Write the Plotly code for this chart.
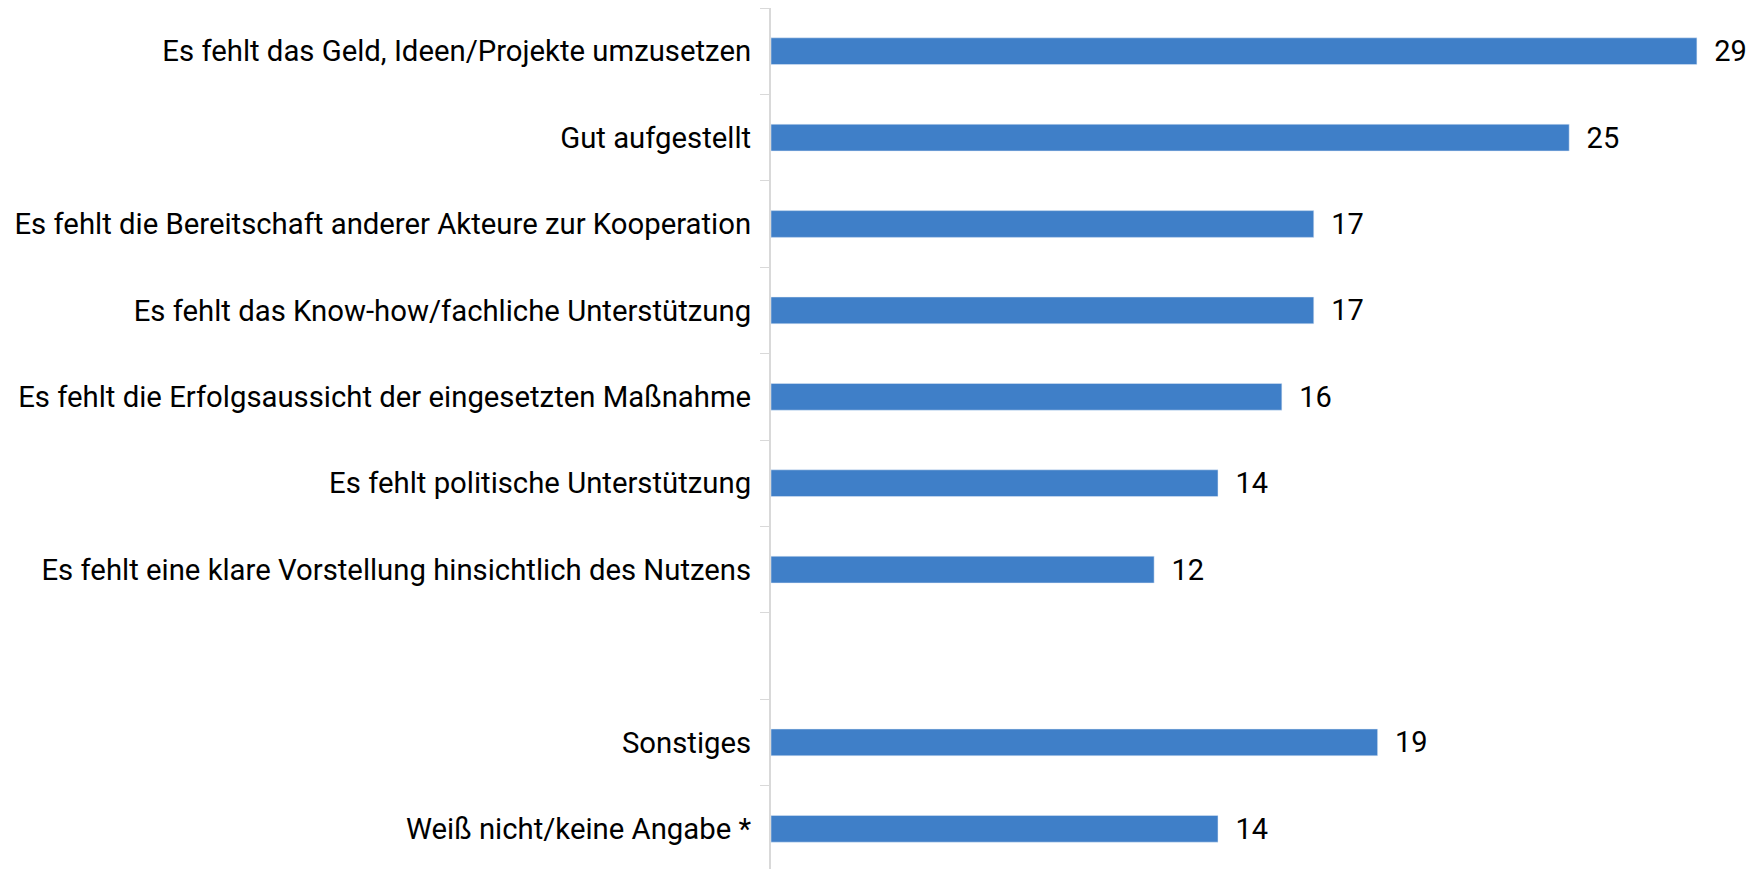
import plotly.graph_objects as go

# kategorijas (tuksa rinda atdala pedejas divas)
kategorijas = [
    "Es fehlt das Geld, Ideen/Projekte umzusetzen",
    "Gut aufgestellt",
    "Es fehlt die Bereitschaft anderer Akteure zur Kooperation",
    "Es fehlt das Know-how/fachliche Unterstützung",
    "Es fehlt die Erfolgsaussicht der eingesetzten Maßnahme",
    "Es fehlt politische Unterstützung",
    "Es fehlt eine klare Vorstellung hinsichtlich des Nutzens",
    " ",
    "Sonstiges",
    "Weiß nicht/keine Angabe *",
]
vertibas = [29, 25, 17, 17, 16, 14, 12, None, 19, 14]
teksts = ["" if v is None else "\u00a0\u00a0" + str(v) for v in vertibas]

fig = go.Figure(go.Bar(
    x=vertibas, y=kategorijas, orientation="h",
    marker=dict(color="#3f7fc8"),
    width=0.31,
    text=teksts, textposition="outside", cliponaxis=False,
    constraintext="none",
    textfont=dict(size=29, color="black"),
))

fig.update_layout(
    width=1755, height=869,
    margin=dict(l=763, r=0, t=0, b=5),
    plot_bgcolor="white", paper_bgcolor="white",
    font=dict(family="Roboto", size=29.3, color="black"),
    showlegend=False,
)
fig.update_xaxes(range=[0, 31.07], visible=False)
fig.update_yaxes(
    autorange="reversed", type="category",
    showline=True, linecolor="#d9d9d9", linewidth=2,
    ticks="outside", tickson="boundaries", ticklen=9, tickcolor="#d9d9d9",
    ticklabelstandoff=12,
    showgrid=False,
)

fig.write_html("out.html")
